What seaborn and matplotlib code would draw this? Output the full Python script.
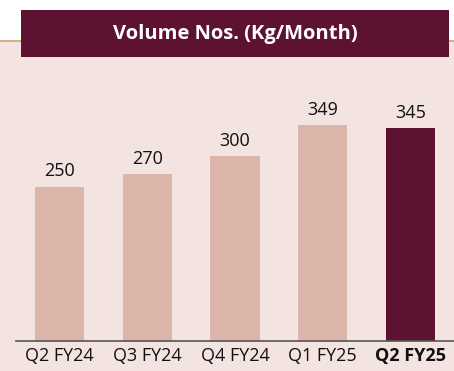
import numpy as np
import pandas as pd
import matplotlib
matplotlib.use("Agg")
import matplotlib.pyplot as plt
import seaborn as sns
from matplotlib.patches import Rectangle
from matplotlib.lines import Line2D

quarters = ["Q2 FY24", "Q3 FY24", "Q4 FY24", "Q1 FY25", "Q2 FY25"]
volumes = [250, 270, 300, 349, 345]
title = "Volume Nos. (Kg/Month)"

bg = "#F3E3E1"
light = "#DBB4AA"
dark = "#5E1232"

sns.set_style("white")
plt.rcParams["font.family"] = ["Open Sans", "DejaVu Sans"]

df = pd.DataFrame({"Quarter": quarters, "Volume": volumes})

W, H = 454, 371
fig = plt.figure(figsize=(W / 100, H / 100), dpi=100)
fig.patch.set_facecolor("white")

# pink panel below the gold rule
fig.patches.append(Rectangle((0, 0), 1, 1 - 42 / H, transform=fig.transFigure,
                             facecolor=bg, edgecolor="none", zorder=-2))
fig.lines.append(Line2D([0, 1], [1 - 41 / H] * 2, transform=fig.transFigure,
                        color="#C9A36A", lw=1.2, zorder=-1))

ax = fig.add_axes([16 / W, 30 / H, 438 / W, 281 / H])
ax.set_zorder(1)
ax.set_facecolor("none")
palette = [light] * 4 + [dark]
sns.barplot(data=df, x="Quarter", y="Volume", hue="Quarter", palette=palette,
            width=0.56, legend=False, ax=ax, saturation=1, linewidth=0, edgecolor="none")
ax.set_xlim(-0.5, 4.5)
ax.set_ylim(0, 455)
for i, v in enumerate(volumes):
    ax.text(i, v + 10, str(v), ha="center", va="bottom", fontsize=13, color="#111111")

ax.set_xlabel("")
ax.set_ylabel("")
ax.set_yticks([])
ax.tick_params(axis="x", length=0, labelsize=13, pad=4, colors="#111111")
for lab in ax.get_xticklabels():
    if lab.get_text() == "Q2 FY25":
        lab.set_fontweight("bold")
for s in ["top", "right", "left"]:
    ax.spines[s].set_visible(False)
ax.spines["bottom"].set_color("#555555")
ax.spines["bottom"].set_linewidth(1.2)

# title banner
fig.patches.append(Rectangle((21 / W, 1 - 57 / H), 428 / W, 47 / H, transform=fig.transFigure,
                             facecolor=dark, edgecolor="none", zorder=2))
fig.text(235 / W, 1 - 34 / H, title, ha="center", va="center", color="white",
         fontsize=14.5, fontweight="bold", zorder=3)

fig.savefig("out.png", dpi=100, facecolor=fig.get_facecolor())
